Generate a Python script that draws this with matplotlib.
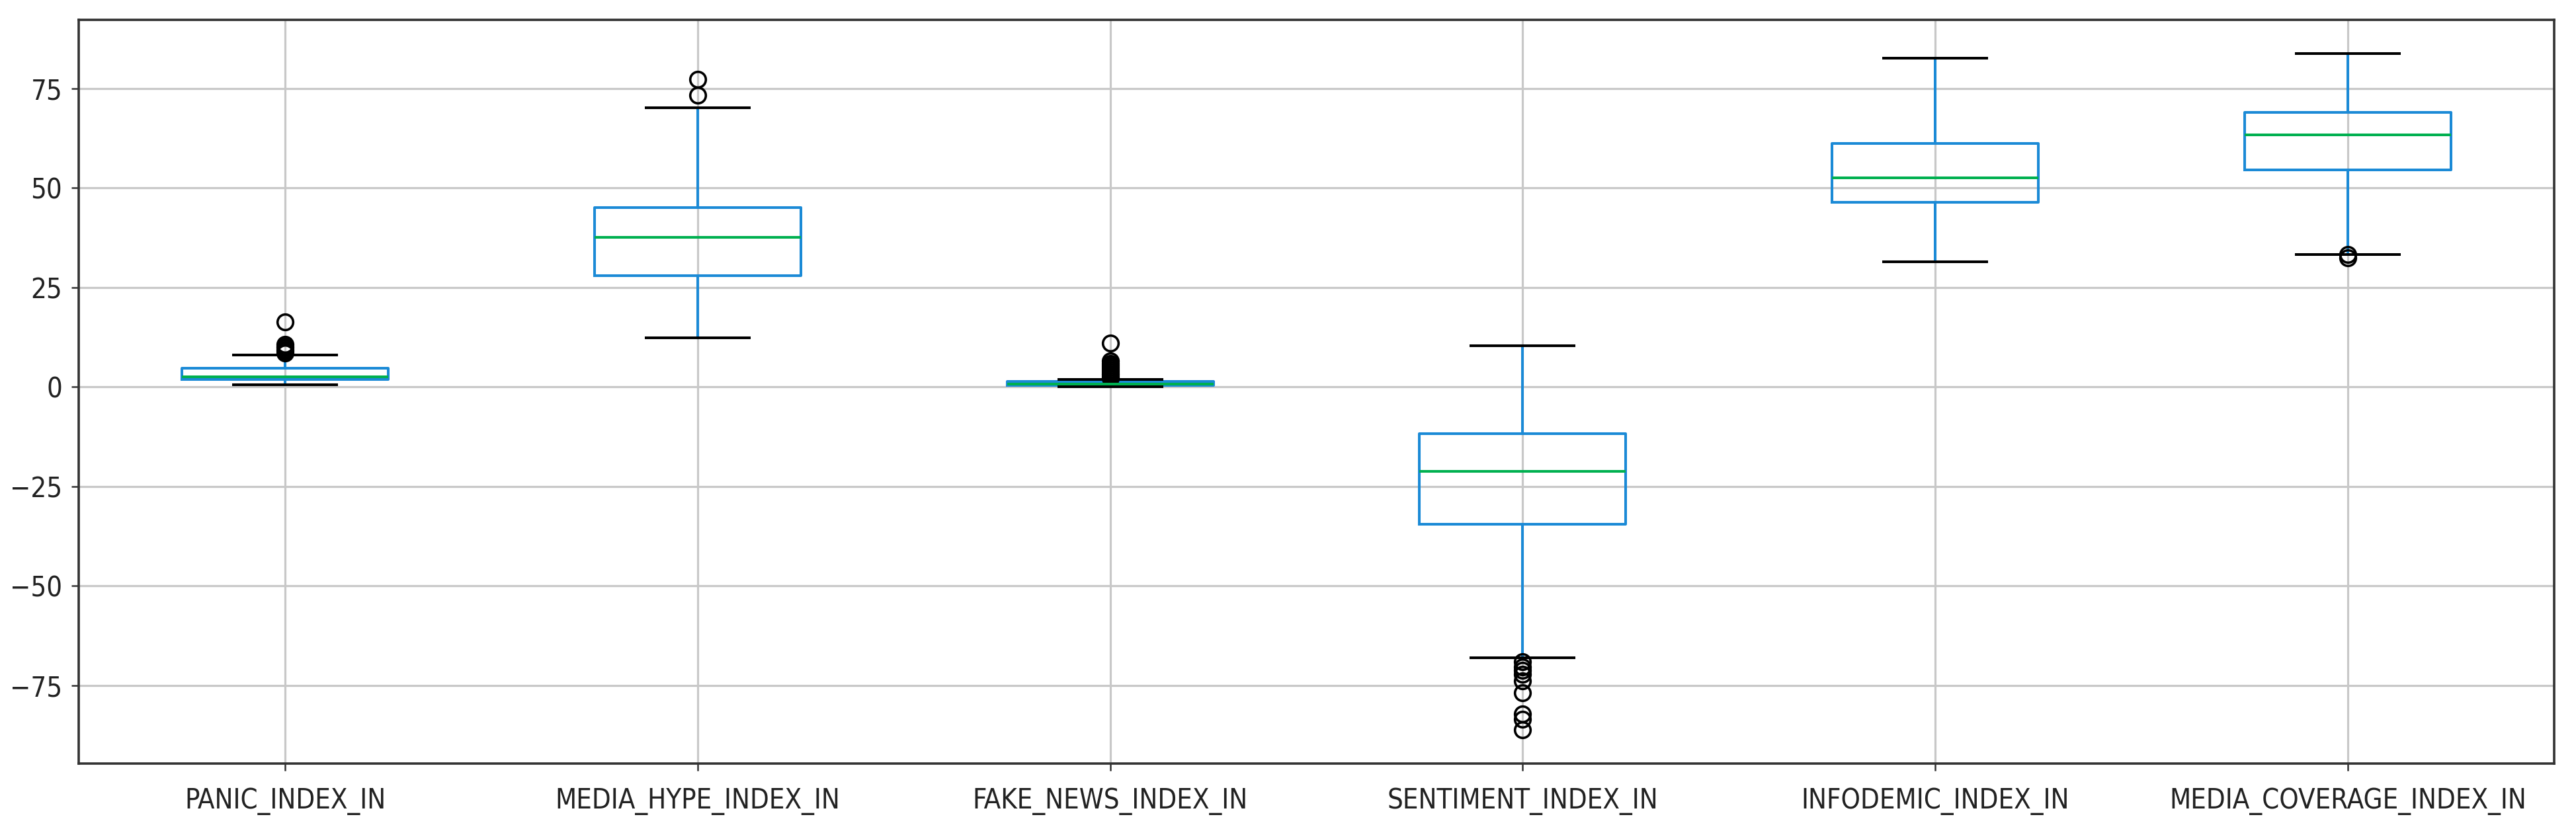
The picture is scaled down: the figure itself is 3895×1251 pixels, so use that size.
import matplotlib
matplotlib.use("Agg")
import matplotlib.pyplot as plt

# box statistics
labels = ['PANIC_INDEX_IN', 'MEDIA_HYPE_INDEX_IN', 'FAKE_NEWS_INDEX_IN',
          'SENTIMENT_INDEX_IN', 'INFODEMIC_INDEX_IN', 'MEDIA_COVERAGE_INDEX_IN']
whislo = [0.6, 12.3, 0.0, -68.1, 31.4, 33.3]
q1 = [1.9, 27.9, 0.4, -34.5, 46.4, 54.5]
med = [2.5, 37.5, 0.7, -21.2, 52.5, 63.3]
q3 = [4.7, 45.0, 1.3, -11.8, 61.2, 68.9]
whishi = [8.1, 70.2, 1.9, 10.4, 82.5, 83.7]
fliers = [
    [8.6, 9.0, 9.4, 9.8, 10.2, 10.7, 16.3],
    [73.3, 77.2],
    [2.2, 2.6, 3.0, 3.4, 3.8, 4.3, 4.8, 5.3, 5.9, 6.5, 11.0],
    [-69.0, -70.3, -71.2, -72.1, -73.9, -76.8, -82.1, -83.4, -86.2],
    [],
    [32.4, 33.2],
]

BLUE = '#1b8ad6'
GREEN = '#00b050'
LW = 2.9

plt.rcParams['font.family'] = ['DejaVu Sans']
plt.rcParams['font.stretch'] = 'condensed'

stats = [dict(label=labels[i], whislo=whislo[i], q1=q1[i], med=med[i], q3=q3[i],
              whishi=whishi[i], fliers=fliers[i]) for i in range(len(labels))]

fig = plt.figure(figsize=(38.95, 12.51), dpi=100)
ax = fig.add_axes([0.0306, 0.0767, 0.9609, 0.8993])
ax.bxp(stats, widths=0.5, showfliers=True,
       boxprops=dict(color=BLUE, linewidth=LW),
       whiskerprops=dict(color=BLUE, linewidth=LW),
       capprops=dict(color='black', linewidth=LW),
       medianprops=dict(color=GREEN, linewidth=LW),
       flierprops=dict(marker='o', markersize=17, markerfacecolor='none',
                       markeredgecolor='black', markeredgewidth=2.6))

ax.set_xlim(0.5, 6.5)
ax.set_ylim(-94.6, 92.2)
ax.set_yticks([-75, -50, -25, 0, 25, 50, 75])
ax.grid(True, color='#c8c8c8', linewidth=2.3)
ax.set_axisbelow(True)
for s in ax.spines.values():
    s.set_color('#333333')
    s.set_linewidth(2.6)
ax.tick_params(axis='both', length=8, width=1.8, color='#333333',
               labelsize=30, labelcolor='#222222')
ax.tick_params(axis='x', pad=18)
ax.tick_params(axis='y', pad=10)

fig.savefig("out.png")
